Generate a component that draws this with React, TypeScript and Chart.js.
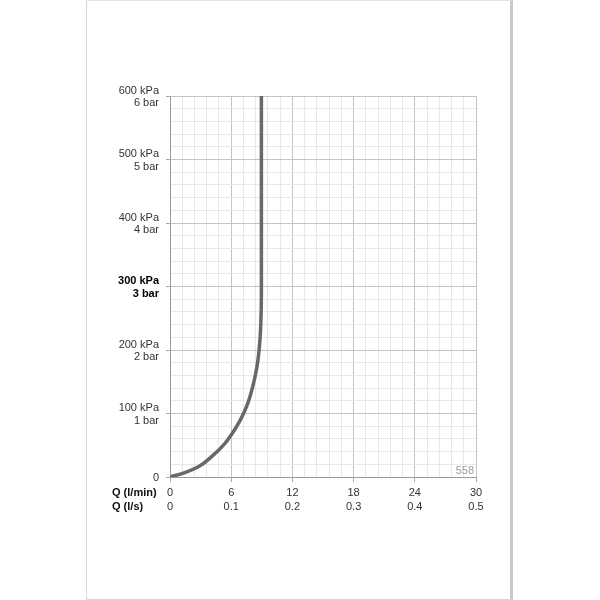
import React, { useEffect, useRef } from "react";
import { Chart, registerables } from "chart.js";

Chart.register(...registerables);

const pressureKpa = [0, 7, 16, 32, 53, 66, 90, 110, 126, 158, 184, 216, 250, 300, 600];
const flowLpm = [0, 1.47, 2.78, 4.08, 5.39, 6.0, 6.9, 7.48, 7.83, 8.34, 8.62, 8.82, 8.92, 8.96, 8.96];
const xRowTitles = ["Q (l/min)", "Q (l/s)"];
const cornerCode = "558";

const FONT = "'Liberation Sans', Arial, Helvetica, sans-serif";
const isMult = (v: number, m: number) => Math.abs(v / m - Math.round(v / m)) < 1e-6;

export default function App() {
  const ref = useRef<HTMLCanvasElement | null>(null);
  useEffect(() => {
    if (!ref.current) return;
    const extras = {
      id: "extras",
      afterDraw(chart: any) {
        const ctx = chart.ctx;
        const area = chart.chartArea;
        ctx.save();
        ctx.font = `bold 11px ${FONT}`;
        ctx.fillStyle = "#111";
        ctx.textAlign = "left";
        ctx.textBaseline = "middle";
        ctx.fillText(xRowTitles[0], 112, 493);
        ctx.fillText(xRowTitles[1], 112, 507);
        ctx.font = `11px ${FONT}`;
        ctx.fillStyle = "#9a9a9a";
        ctx.textAlign = "right";
        ctx.textBaseline = "alphabetic";
        ctx.fillText(cornerCode, area.right - 2, area.bottom - 3);
        ctx.restore();
      },
    };
    const chart = new Chart(ref.current, {
      type: "line",
      data: {
        datasets: [
          {
            data: flowLpm.map((x, i) => ({ x, y: pressureKpa[i] })),
            borderColor: "#686868",
            borderWidth: 3.5,
            pointRadius: 0,
            cubicInterpolationMode: "monotone",
            fill: false,
          },
        ],
      },
      options: {
        animation: false,
        responsive: false,
        indexAxis: "y",
        layout: { padding: { left: 0, top: 96, right: 124, bottom: 83 } },
        plugins: { legend: { display: false }, tooltip: { enabled: false } },
        scales: {
          x: {
            type: "linear",
            position: "bottom",
            min: 0,
            max: 30,
            afterFit: (s: any) => { s.height = 40; },
            border: { color: "#9a9a9a", width: 1 },
            grid: {
              color: (c: any) => (isMult(c.tick.value, 6) ? "#c4c4c4" : "#e8e8e8"),
              tickColor: (c: any) => (isMult(c.tick.value, 6) ? "#a8a8a8" : "rgba(0,0,0,0)"),
              tickLength: 5,
            },
            ticks: {
              stepSize: 1.2,
              autoSkip: false,
              maxRotation: 0,
              padding: 4,
              color: "#333",
              font: { family: FONT, size: 11, lineHeight: 1.25 },
              callback: (v: any) => {
                const n = Number(v);
                if (!isMult(n, 6)) return "";
                if (n === 0) return ["0", "0"];
                return [String(Math.round(n)), (n / 60).toFixed(1)];
              },
            },
          },
          y: {
            type: "linear",
            position: "left",
            min: 0,
            max: 600,
            afterFit: (s: any) => { s.width = 170; },
            border: { color: "#9a9a9a", width: 1 },
            grid: {
              color: (c: any) => (isMult(c.tick.value, 100) ? "#c4c4c4" : "#e8e8e8"),
              tickColor: (c: any) => (isMult(c.tick.value, 100) ? "#a8a8a8" : "rgba(0,0,0,0)"),
              tickLength: 4,
            },
            ticks: {
              stepSize: 20,
              autoSkip: false,
              padding: 7,
              labelOffset: 1,
              color: (c: any) => (c.tick && c.tick.value === 300 ? "#000" : "#333"),
              font: (c: any) => ({
                family: FONT,
                size: 11,
                lineHeight: 1.15,
                weight: c.tick && c.tick.value === 300 ? "bold" : "normal",
              }),
              callback: (v: any) => {
                const n = Number(v);
                if (!isMult(n, 100)) return "";
                if (n === 0) return "0";
                return [`${Math.round(n)} kPa`, `${Math.round(n / 100)} bar`];
              },
            },
          },
        },
      },
      plugins: [extras],
    } as any);
    return () => chart.destroy();
  }, []);

  return (
    <div style={{ position: "fixed", left: 0, top: 0, width: 600, height: 600, background: "#fff" }}>
      <div
        style={{
          position: "absolute",
          left: 86,
          top: 0,
          width: 423,
          height: 598,
          borderLeft: "1px solid #d6d6d6",
          borderTop: "1px solid #e2e2e2",
          borderBottom: "1px solid #d6d6d6",
          borderRight: "3px solid #c8c8c8",
          background: "#fff",
        }}
      />
      <canvas ref={ref} width={600} height={600} style={{ position: "absolute", left: 0, top: 0 }} />
    </div>
  );
}
